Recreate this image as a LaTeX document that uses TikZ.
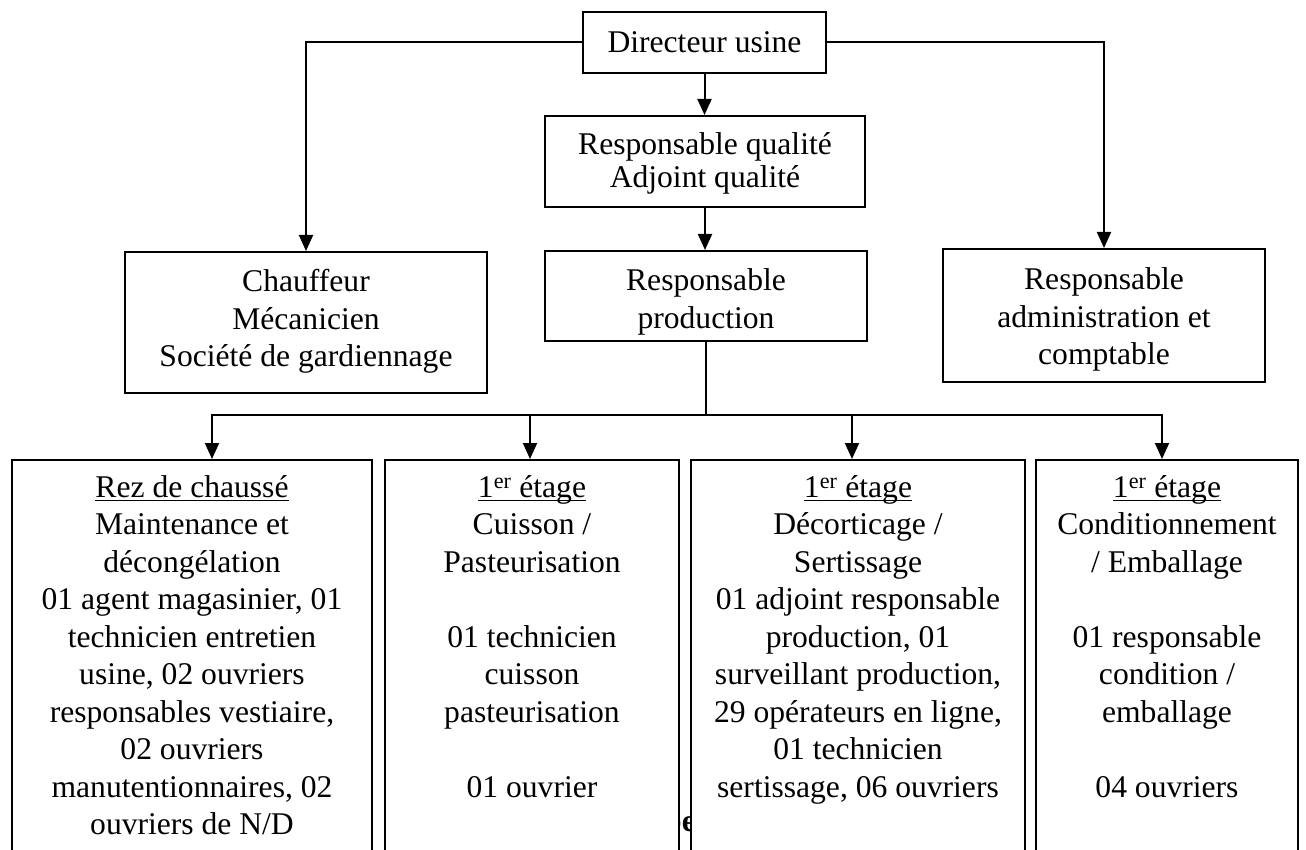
\documentclass[tikz,border=0pt]{standalone}
\usepackage{fontspec}
\setmainfont{Liberation Serif}
\usetikzlibrary{arrows.meta}
\newcommand\bodysize{\fontsize{31.6}{37.5}\selectfont}
\newcommand\tightsize{\fontsize{31.6}{33}\selectfont}
% underlined heading with a fixed rule below the baseline
\newcommand\hdr[1]{\setbox0\hbox{#1}\rlap{\rule[-4pt]{\wd0}{1.6pt}}\box0}
\tikzset{
  box/.style={draw, line width=2pt, fill=white, inner sep=0pt},
  txt/.style={inner sep=0pt, align=center, font=\bodysize},
  wire/.style={line width=2pt},
  conn/.style={wire, -{Triangle[width=14pt,length=16pt]}},
}
\begin{document}
\begin{tikzpicture}[x=1pt, y=-1pt]
\useasboundingbox (0,0) rectangle (1306,850);
\fill[white] (0,0) rectangle (1306,850);
\clip (0,0) rectangle (1306,850);

% top of the chart
\node[box, minimum width=243pt, minimum height=61pt] (dir) at (704.5,42.5) {};
\node[box, minimum width=320pt, minimum height=91pt] (qual) at (705,161.5) {};
\node[box, minimum width=322pt, minimum height=90pt] (prod) at (706,296) {};
\node[box, minimum width=362pt, minimum height=141pt] (chauf) at (306,322.5) {};
\node[box, minimum width=322pt, minimum height=133pt] (admin) at (1104,315.5) {};

\node[txt] (tdir) at (dir.center) {Directeur usine};
\node[txt, font=\tightsize] (tqual) at ([yshift=-2pt]qual.center) {Responsable qualité\\Adjoint qualité};
\node[txt] (tprod) at ([yshift=-6pt]prod.center) {Responsable\\production};
\node[txt] (tchauf) at ([yshift=1pt]chauf.center) {Chauffeur\\Mécanicien\\Société de gardiennage};
\node[txt] (tadmin) at ([yshift=-4pt]admin.center) {Responsable\\administration et\\comptable};

% caption text partly hidden behind the floor boxes
\node[inner sep=0pt, anchor=base east, font=\bodysize\bfseries] (cap) at (696,831) {pe};

% floor boxes, open at the bottom edge of the page
\node[box, minimum width=360pt, minimum height=440pt] (b1) at (192,680) {};
\node[box, minimum width=294pt, minimum height=440pt] (b2) at (532,680) {};
\node[box, minimum width=334pt, minimum height=440pt] (b3) at (858,680) {};
\node[box, minimum width=262pt, minimum height=440pt] (b4) at (1167,680) {};

\node[txt, anchor=north] (t1) at (192,475) {\hdr{Rez de chaussé}\\Maintenance et\\décongélation\\01 agent magasinier, 01\\technicien entretien\\usine, 02 ouvriers\\responsables vestiaire,\\02 ouvriers\\manutentionnaires, 02\\ouvriers de N/D};
\node[txt, anchor=north] (t2) at (532,475) {\hdr{1\textsuperscript{er} étage}\\Cuisson /\\Pasteurisation\\\mbox{}\\01 technicien\\cuisson\\pasteurisation\\\mbox{}\\01 ouvrier};
\node[txt, anchor=north] (t3) at (858,475) {\hdr{1\textsuperscript{er} étage}\\Décorticage /\\Sertissage\\01 adjoint responsable\\production, 01\\surveillant production,\\29 opérateurs en ligne,\\01 technicien\\sertissage, 06 ouvriers};
\node[txt, anchor=north] (t4) at (1167,475) {\hdr{1\textsuperscript{er} étage}\\Conditionnement\\/ Emballage\\\mbox{}\\01 responsable\\condition /\\emballage\\\mbox{}\\04 ouvriers};

% connectors
\draw[conn] (dir.west) -| (chauf.north);
\draw[conn] (dir.east) -| (admin.north);
\draw[conn] (dir.south) -- (dir.south |- qual.north);
\draw[conn] (qual.south) -- (qual.south |- prod.north);

\coordinate (j1) at (212,415);
\coordinate (j2) at (530,415);
\coordinate (j3) at (852,415);
\coordinate (j4) at (1162,415);
\draw[wire] (prod.south) -- (prod.south |- j1);
\draw[wire, line cap=rect] (j1) -- (j4);
\draw[conn] (j1) -- (j1 |- b1.north);
\draw[conn] (j2) -- (j2 |- b2.north);
\draw[conn] (j3) -- (j3 |- b3.north);
\draw[conn] (j4) -- (j4 |- b4.north);
\end{tikzpicture}
\end{document}
